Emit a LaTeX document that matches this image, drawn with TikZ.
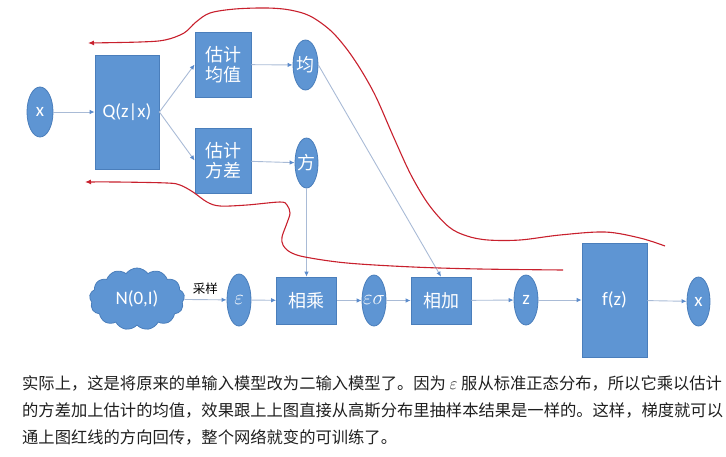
\documentclass[tikz,border=0pt]{standalone}
\usepackage{fontspec}
\setmainfont{Carlito}
\newfontfamily\cjk{Noto Sans CJK SC}
\usetikzlibrary{shapes.geometric,shapes.symbols,arrows.meta}
\definecolor{bfill}{HTML}{5E95D3}
\definecolor{bdraw}{HTML}{4A7EBB}
\definecolor{lnc}{HTML}{A9BBD6}
\definecolor{tipc}{HTML}{5B8BCB}
\definecolor{redc}{HTML}{C8202D}
\begin{document}
\begin{tikzpicture}[x=1pt,y=-1pt,
 box/.style={rectangle,draw=bdraw,fill=bfill,text=white,line width=0.8pt,inner sep=0pt},
 ell/.style={ellipse,draw=bdraw,fill=bfill,text=white,line width=0.8pt,inner sep=0pt},
 conn/.style={draw=lnc,line width=0.9pt,-{Latex[length=5pt,width=4.5pt,color=tipc]}},
 back/.style={draw=redc,line width=1.1pt,-{Latex[length=6pt,width=5pt]}},
 lbl/.style={font=\fontsize{19}{21}\selectfont},
 mlbl/.style={font=\fontsize{22}{24}\selectfont},
 clbl/.style={font=\cjk\fontsize{18}{20.5}\selectfont, align=center},
 para/.style={anchor=base west,inner sep=0pt,text=black!88,font=\cjk\fontsize{16.3}{20}\selectfont},
]
\useasboundingbox (0,0) rectangle (726,456);
% top part
\node[ell,lbl,minimum width=26pt,minimum height=50pt] (x1) at (40,112) {x};
\node[box,lbl,minimum width=64pt,minimum height=114pt] (Q) at (127,112) {Q(z|x)};
\node[box,clbl,minimum width=56pt,minimum height=65pt] (jz) at (223,64.5) {估计\\均值};
\node[box,clbl,minimum width=56pt,minimum height=65pt] (fc) at (223,160.5) {估计\\方差};
\node[ell,clbl,minimum width=25pt,minimum height=50pt] (jun) at (305.5,65) {\makebox[0pt]{均}};
\node[ell,clbl,minimum width=23pt,minimum height=50pt] (fang) at (306.5,163) {\makebox[0pt]{方}};
% bottom row
\node[cloud,cloud puffs=13,cloud puff arc=110,aspect=1.6,draw=bdraw,fill=bfill,text=white,line width=0.8pt,inner sep=0pt,minimum width=95pt,minimum height=62pt,lbl] (cl) at (137,299) {N(0,I)};
\node[ell,mlbl,minimum width=24pt,minimum height=52pt] (eps) at (239,300) {\makebox[0pt]{$\varepsilon$}};
\node[box,clbl,minimum width=60pt,minimum height=47pt] (xc) at (306.5,300.5) {相乘};
\node[ell,font=\fontsize{20}{22}\selectfont,minimum width=24pt,minimum height=51pt] (es) at (374,300.5) {\makebox[0pt]{$\varepsilon\sigma$}};
\node[box,clbl,minimum width=60pt,minimum height=47pt] (xj) at (441,300.5) {相加};
\node[ell,lbl,minimum width=24pt,minimum height=50pt] (z) at (526,300) {z};
\node[box,lbl,minimum width=65pt,minimum height=114pt] (fz) at (614.5,300) {f(z)};
\node[ell,lbl,minimum width=23pt,minimum height=49pt] (x2) at (698.5,301.5) {x};
% connectors
\draw[conn] (x1) -- (Q);
\draw[conn] (Q.east) -- (jz.west);
\draw[conn] (Q.east) -- (fc.west);
\draw[conn] (jz) -- (jun);
\draw[conn] (fc) -- (fang);
\draw[conn] (fang) -- (xc);
\draw[conn] (jun.east) -- (xj.north);
\draw[conn] (cl) -- node[above=1pt,text=black,font=\cjk\fontsize{12.5}{14}\selectfont]{采样} (eps);
\draw[conn] (eps) -- (xc);
\draw[conn] (xc) -- (es);
\draw[conn] (es) -- (xj);
\draw[conn] (xj) -- (z);
\draw[conn] (z) -- (fz);
\draw[conn] (fz) -- (x2);
% red back-propagation curves
\draw[back] plot[smooth,tension=0.55] coordinates {(665,246) (640,238) (605,232) (560,235) (520,240) (488,240) (467,236) (449,227) (429,205) (411,175) (394,138) (376,97) (361,70) (346,48) (330,30) (310,16) (290,10) (267,8) (235,9) (210,13) (196,22) (184,33) (165,40) (140,42) (88,43)};
\draw[back] plot[smooth,tension=0.55] coordinates {(563,270) (480,269) (413,267) (347,263) (305,257) (290,252) (283,245) (282,237) (287,223) (290,213) (287,205) (280,202) (247,205) (220,206) (207,202) (193,192) (180,185) (167,183) (117,182) (85,182)};
% paragraph
\node[para] (t1) at (22,389) {实际上，这是将原来的单输入模型改为二输入模型了。因为 $\varepsilon$ 服从标准正态分布，所以它乘以估计};
\node[para] (t2) at (22,416) {的方差加上估计的均值，效果跟上上图直接从高斯分布里抽样本结果是一样的。这样，梯度就可以};
\node[para] (t3) at (22,443) {通上图红线的方向回传，整个网络就变的可训练了。};
\end{tikzpicture}
\end{document}
